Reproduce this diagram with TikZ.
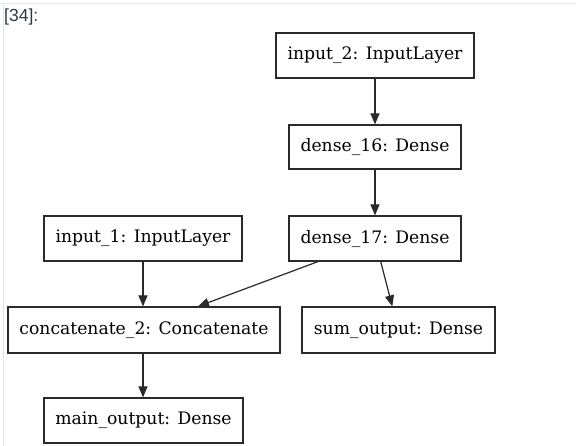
\documentclass[tikz,border=0pt]{standalone}
\usepackage{fontspec}
\setmainfont{DejaVu Serif}
\newfontfamily\promptfont{Liberation Sans}
\usetikzlibrary{arrows.meta,calc}
\definecolor{edgecol}{HTML}{2A2A2A}
\definecolor{framecol}{HTML}{E4E4EC}
\definecolor{promptcol}{HTML}{303846}
\begin{document}
\begin{tikzpicture}[x=1pt,y=-1pt,
  layer/.style={draw=edgecol, line width=1.2pt, fill=white, minimum height=45pt,
    inner sep=0pt, font=\fontsize{17.2}{20}\selectfont, text=black},
  arr/.style={draw=edgecol, line width=1.2pt, -{Triangle[length=11pt,width=9pt]}}]
\useasboundingbox (0,0) rectangle (576,446);
\fill[white] (0,0) rectangle (576,446);
\draw[framecol, line width=1pt] (0,4) -- (576,4);
\draw[framecol, line width=1pt] (3,4) -- (3,446);
\node[anchor=base west, text=promptcol, font=\promptfont\fontsize{17.5}{20}\selectfont, inner sep=0pt] (prompt) at (4,22) {[34]:};
\node[layer, minimum width=198pt] (in2) at (375,55.5) {input\_2: InputLayer};
\node[layer, minimum width=172pt, minimum height=44pt] (d16) at (375,147) {dense\_16: Dense};
\node[layer, minimum width=172pt] (d17) at (375,238.5) {dense\_17: Dense};
\node[layer, minimum width=198pt] (in1) at (143,238.5) {input\_1: InputLayer};
\node[layer, minimum width=272pt, minimum height=46pt] (cat) at (144,330) {concatenate\_2: Concatenate};
\node[layer, minimum width=193pt, minimum height=46pt] (sum) at (398.5,330) {sum\_output: Dense};
\node[layer, minimum width=199pt] (main) at (143.5,420.5) {main\_output: Dense};
\draw[arr] (in2.south) -- (d16.north);
\draw[arr] (d16.south) -- (d17.north);
\draw[arr] (in1.south) -- (in1.south |- cat.north);
\draw[arr] ([xshift=-57pt]d17.south) -- ([xshift=54pt]cat.north);
\draw[arr] ([xshift=5.7pt]d17.south) -- ([xshift=-6.2pt]sum.north);
\draw[arr] (cat.south -| in1.south) -- (in1.south |- main.north);
\end{tikzpicture}
\end{document}
